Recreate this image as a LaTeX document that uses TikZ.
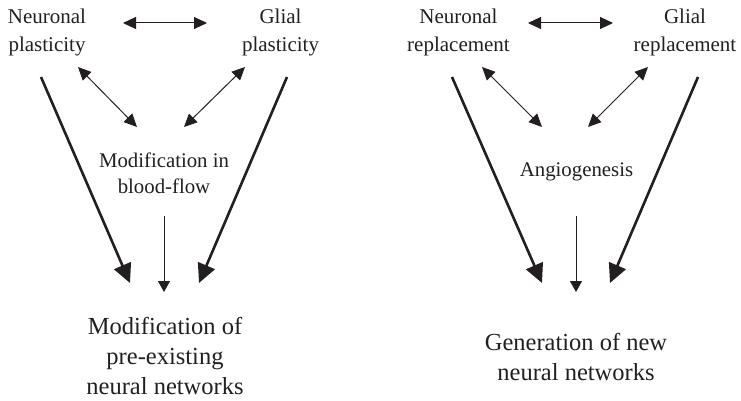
\documentclass[tikz,border=0pt]{standalone}
\usepackage{fontspec}
\setmainfont{Liberation Serif}
\usetikzlibrary{arrows.meta}
\definecolor{ink}{HTML}{231F20}
\begin{document}
\begin{tikzpicture}[x=1pt,y=-1pt,
  label/.style={align=center,inner sep=0pt,text=ink,
    font=\fontsize{21}{28}\selectfont},
  midlabel/.style={label,font=\fontsize{20.8}{26}\selectfont},
  result/.style={align=center,inner sep=0pt,text=ink,
    font=\fontsize{24.5}{30}\selectfont},
  link/.style={draw=ink,line width=1pt,{Triangle[length=13pt,width=12pt]}-{Triangle[length=13pt,width=12pt]}},
  feed/.style={draw=ink,line width=1pt,-{Triangle[length=11pt,width=12pt]}},
  flow/.style={draw=ink,line width=2.6pt,-{Triangle[length=19pt,width=18pt]}}]
\useasboundingbox (0,0) rectangle (741,401);

% ---- plasticity of existing circuits
\node[label] (np) at (47,32) {Neuronal\\plasticity};
\node[label] (gp) at (280.5,32) {Glial\\plasticity};
\node[midlabel] (bf) at (164,173) {Modification in\\blood-flow};
\node[result] (mod) at (165,356) {Modification of\\pre-existing\\neural networks};

\coordinate (npR) at (123,23);  \coordinate (gpL) at (207,23);
\coordinate (npD) at (78,67);   \coordinate (bfL) at (137,127);
\coordinate (gpD) at (245,67);  \coordinate (bfR) at (184,127);
\coordinate (npS) at (41,77);   \coordinate (modL) at (130,283);
\coordinate (gpS) at (287,77);  \coordinate (modR) at (199,283);
\coordinate (bfS) at (164,216); \coordinate (modC) at (164,292);

\draw[link] (npR) -- (gpL);
\draw[link] (npD) -- (bfL);
\draw[link] (gpD) -- (bfR);
\draw[flow] (npS) -- (modL);
\draw[flow] (gpS) -- (modR);
\draw[feed] (bfS) -- (modC);

% ---- replacement and new circuits
\node[label] (nr) at (458.5,32) {Neuronal\\replacement};
\node[label] (gr) at (685,32) {Glial\\replacement};
\node[midlabel] (ag) at (576.5,172) {Angiogenesis};
\node[result] (gen) at (576,357) {Generation of new\\neural networks};

\coordinate (nrR) at (528,23);  \coordinate (grL) at (613,23);
\coordinate (nrD) at (482,67);  \coordinate (agL) at (542,127);
\coordinate (grD) at (648,67);  \coordinate (agR) at (588,127);
\coordinate (nrS) at (452,77);  \coordinate (genL) at (542,283);
\coordinate (grS) at (698,77);  \coordinate (genR) at (610,283);
\coordinate (agS) at (576,216); \coordinate (genC) at (576,292);

\draw[link] (nrR) -- (grL);
\draw[link] (nrD) -- (agL);
\draw[link] (grD) -- (agR);
\draw[flow] (nrS) -- (genL);
\draw[flow] (grS) -- (genR);
\draw[feed] (agS) -- (genC);
\end{tikzpicture}
\end{document}
